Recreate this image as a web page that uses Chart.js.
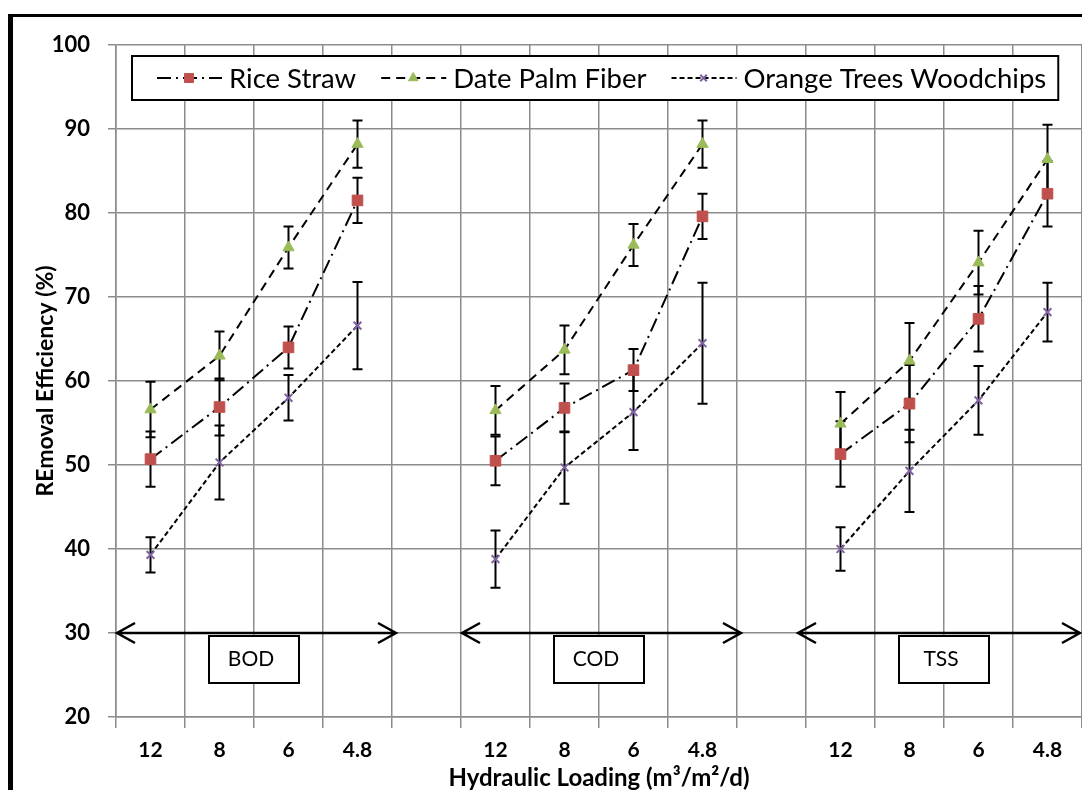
<!DOCTYPE html>
<html>
<head>
<meta charset="utf-8">
<script src="https://cdn.jsdelivr.net/npm/chart.js@4.4.1/dist/chart.umd.min.js"></script>
<style>
  html, body { margin: 0; padding: 0; background: #fff; overflow: hidden; }
  canvas { display: block; }
</style>
</head>
<body>
<canvas id="chart" width="1082" height="790"></canvas>
<script>
// hydraulic loading categories, one blank slot between parameter groups
const categories = ['12', '8', '6', '4.8', '', '12', '8', '6', '4.8', '', '12', '8', '6', '4.8'];

const riceStraw    = [50.7, 56.9, 64.0, 81.5, null, 50.5, 56.8, 61.3, 79.6, null, 51.3, 57.3, 67.4, 82.3];
const riceStrawErr = [3.3, 3.4, 2.5, 2.7, null, 2.9, 2.9, 2.5, 2.7, null, 3.9, 4.6, 3.9, 3.9];

const datePalm    = [56.6, 63.0, 75.9, 88.2, null, 56.5, 63.7, 76.2, 88.2, null, 54.9, 62.4, 74.1, 86.4];
const datePalmErr = [3.3, 2.9, 2.5, 2.8, null, 2.9, 2.9, 2.5, 2.8, null, 3.8, 4.5, 3.8, 4.1];

const orangeWood    = [39.3, 50.3, 58.0, 66.6, null, 38.8, 49.7, 56.3, 64.5, null, 40.0, 49.3, 57.7, 68.2];
const orangeWoodErr = [2.1, 4.4, 2.7, 5.2, null, 3.4, 4.3, 4.5, 7.2, null, 2.6, 4.9, 4.1, 3.5];

const groupLabels = ['BOD', 'COD', 'TSS'];
const groupSpans = [[0, 3], [5, 8], [10, 13]];

const FONT = 'Lato, "Open Sans", sans-serif';
const GRID = '#8c8c8c';

// error bars under the markers
const errorBars = {
  id: 'errorBars',
  beforeDatasetsDraw(chart) {
    const { ctx, scales: { x, y } } = chart;
    ctx.save();
    ctx.strokeStyle = '#000';
    ctx.lineWidth = 2;
    chart.data.datasets.forEach(ds => {
      ds.data.forEach((v, i) => {
        if (v == null) return;
        const e = ds.errors[i];
        const px = x.getPixelForValue(i);
        const top = y.getPixelForValue(v + e);
        const bot = y.getPixelForValue(v - e);
        ctx.beginPath();
        ctx.moveTo(px, top); ctx.lineTo(px, bot);
        ctx.moveTo(px - 5, top); ctx.lineTo(px + 5, top);
        ctx.moveTo(px - 5, bot); ctx.lineTo(px + 5, bot);
        ctx.stroke();
      });
    });
    ctx.restore();
  }
};

// double arrows + labelled boxes at y = 30
const groupArrows = {
  id: 'groupArrows',
  beforeDatasetsDraw(chart) {
    const { ctx, chartArea, scales: { x, y } } = chart;
    const half = (x.getPixelForValue(1) - x.getPixelForValue(0)) / 2;
    const ay = y.getPixelForValue(30);
    ctx.save();
    groupSpans.forEach(([a, b], g) => {
      const x0 = x.getPixelForValue(a) - half + (g === 2 ? -8 : 1);
      const x1 = Math.min(x.getPixelForValue(b) + half + 4, chartArea.right - 2);
      ctx.strokeStyle = '#000';
      ctx.lineWidth = 2.5;
      ctx.beginPath();
      ctx.moveTo(x0, ay); ctx.lineTo(x1, ay);
      ctx.moveTo(x0 + 18, ay - 10); ctx.lineTo(x0, ay); ctx.lineTo(x0 + 18, ay + 10);
      ctx.moveTo(x1 - 18, ay - 10); ctx.lineTo(x1, ay); ctx.lineTo(x1 - 18, ay + 10);
      ctx.stroke();

      const cx = (x.getPixelForValue(a) + x.getPixelForValue(b)) / 2;
      const bw = 90, bh = 47, by = ay + 3;
      ctx.fillStyle = '#fff';
      ctx.fillRect(cx - bw / 2, by, bw, bh);
      ctx.lineWidth = 2;
      ctx.strokeRect(cx - bw / 2, by, bw, bh);
      ctx.fillStyle = '#000';
      ctx.font = '21px ' + FONT;
      ctx.textAlign = 'center';
      ctx.textBaseline = 'middle';
      ctx.fillText(groupLabels[g], cx - 3, by + bh / 2);
    });
    ctx.restore();
  }
};

// boxed legend inside the plot, line sample with marker
const boxLegend = {
  id: 'boxLegend',
  afterDatasetsDraw(chart) {
    const { ctx } = chart;
    const top = 56, bottom = 100, left = 132, cy = (top + bottom) / 2;
    ctx.save();
    ctx.font = '27.5px ' + FONT;
    let xPos = 157;
    const items = chart.data.datasets.map(ds => {
      const tw = ctx.measureText(ds.label).width;
      const item = { ds, x: xPos, tx: xPos + 72 };
      xPos = item.tx + tw + 25;
      item.end = item.tx + tw;
      return item;
    });
    const right = items[items.length - 1].end + 12;
    ctx.fillStyle = '#fff';
    ctx.fillRect(left, top, right - left, bottom - top);
    ctx.strokeStyle = '#000';
    ctx.lineWidth = 2;
    ctx.strokeRect(left, top, right - left, bottom - top);

    items.forEach(({ ds, x, tx }) => {
      ctx.strokeStyle = '#000';
      ctx.lineWidth = 2;
      ctx.setLineDash(ds.borderDash);
      ctx.beginPath();
      ctx.moveTo(x, cy); ctx.lineTo(x + 65, cy);
      ctx.stroke();
      ctx.setLineDash([]);
      ctx.fillStyle = ds.pointBackgroundColor;
      ctx.strokeStyle = ds.pointBorderColor;
      ctx.lineWidth = ds.pointBorderWidth;
      Chart.helpers.drawPoint(ctx, {
        pointStyle: ds.pointStyle, radius: ds.pointRadius * 0.85,
        rotation: 0, borderWidth: ds.pointBorderWidth
      }, x + 32, cy);
      ctx.fillStyle = '#000';
      ctx.textAlign = 'left';
      ctx.textBaseline = 'middle';
      ctx.fillText(ds.label, tx, cy + 1);
    });
    ctx.restore();
  }
};

// outer frame of the figure
const frame = {
  id: 'frame',
  afterDraw(chart) {
    const { ctx } = chart;
    ctx.save();
    ctx.fillStyle = '#000';
    ctx.fillRect(8, 14, 5, 790);
    ctx.fillRect(8, 14, 1082, 3);
    ctx.restore();
  }
};

new Chart(document.getElementById('chart'), {
  type: 'line',
  data: {
    labels: categories,
    datasets: [
      {
        label: 'Rice Straw', data: riceStraw, errors: riceStrawErr,
        borderColor: '#000', borderWidth: 2, borderDash: [14, 5, 2, 5],
        pointStyle: 'rect', pointRadius: 7.5,
        pointBackgroundColor: '#C0504D', pointBorderColor: '#C0504D', pointBorderWidth: 1,
        tension: 0, fill: false, spanGaps: false
      },
      {
        label: 'Date Palm Fiber', data: datePalm, errors: datePalmErr,
        borderColor: '#000', borderWidth: 2, borderDash: [9, 6],
        pointStyle: 'triangle', pointRadius: 6.5,
        pointBackgroundColor: '#9BBB59', pointBorderColor: '#9BBB59', pointBorderWidth: 1,
        tension: 0, fill: false, spanGaps: false
      },
      {
        label: 'Orange Trees Woodchips', data: orangeWood, errors: orangeWoodErr,
        borderColor: '#000', borderWidth: 2, borderDash: [5, 3],
        pointStyle: 'crossRot', pointRadius: 5.5,
        pointBackgroundColor: '#8064A2', pointBorderColor: '#8064A2', pointBorderWidth: 2,
        tension: 0, fill: false, spanGaps: false
      }
    ]
  },
  options: {
    responsive: false,
    animation: false,
    layout: { autoPadding: false, padding: { top: 45, right: 0, bottom: 0, left: 0 } },
    plugins: { legend: { display: false }, tooltip: { enabled: false } },
    scales: {
      x: {
        offset: true,
        grid: { offset: true, color: GRID, lineWidth: 1.5, tickLength: 11 },
        border: { color: GRID, width: 1.5 },
        ticks: {
          autoSkip: false, maxRotation: 0, padding: 10, color: '#000',
          font: { family: FONT, size: 21, weight: 'bold' }
        },
        title: {
          display: true, text: 'Hydraulic Loading (m³/m²/d)', color: '#000',
          font: { family: FONT, size: 24, weight: 'bold' }, padding: { top: 0, bottom: -3 }
        },
        afterFit: s => { s.height = 73; }
      },
      y: {
        min: 20, max: 100,
        grid: { color: GRID, lineWidth: 1.5, tickLength: 8 },
        border: { color: GRID, width: 1.5 },
        ticks: {
          stepSize: 10, padding: 18, color: '#000',
          font: { family: FONT, size: 22, weight: 'bold' }
        },
        title: {
          display: true, text: 'REmoval Efficiency (%)', color: '#000',
          font: { family: FONT, size: 23, weight: 'bold' }, padding: { top: 32, bottom: 0 }
        },
        afterFit: s => { s.width = 116; }
      }
    }
  },
  plugins: [errorBars, groupArrows, boxLegend, frame]
});
</script>
</body>
</html>
